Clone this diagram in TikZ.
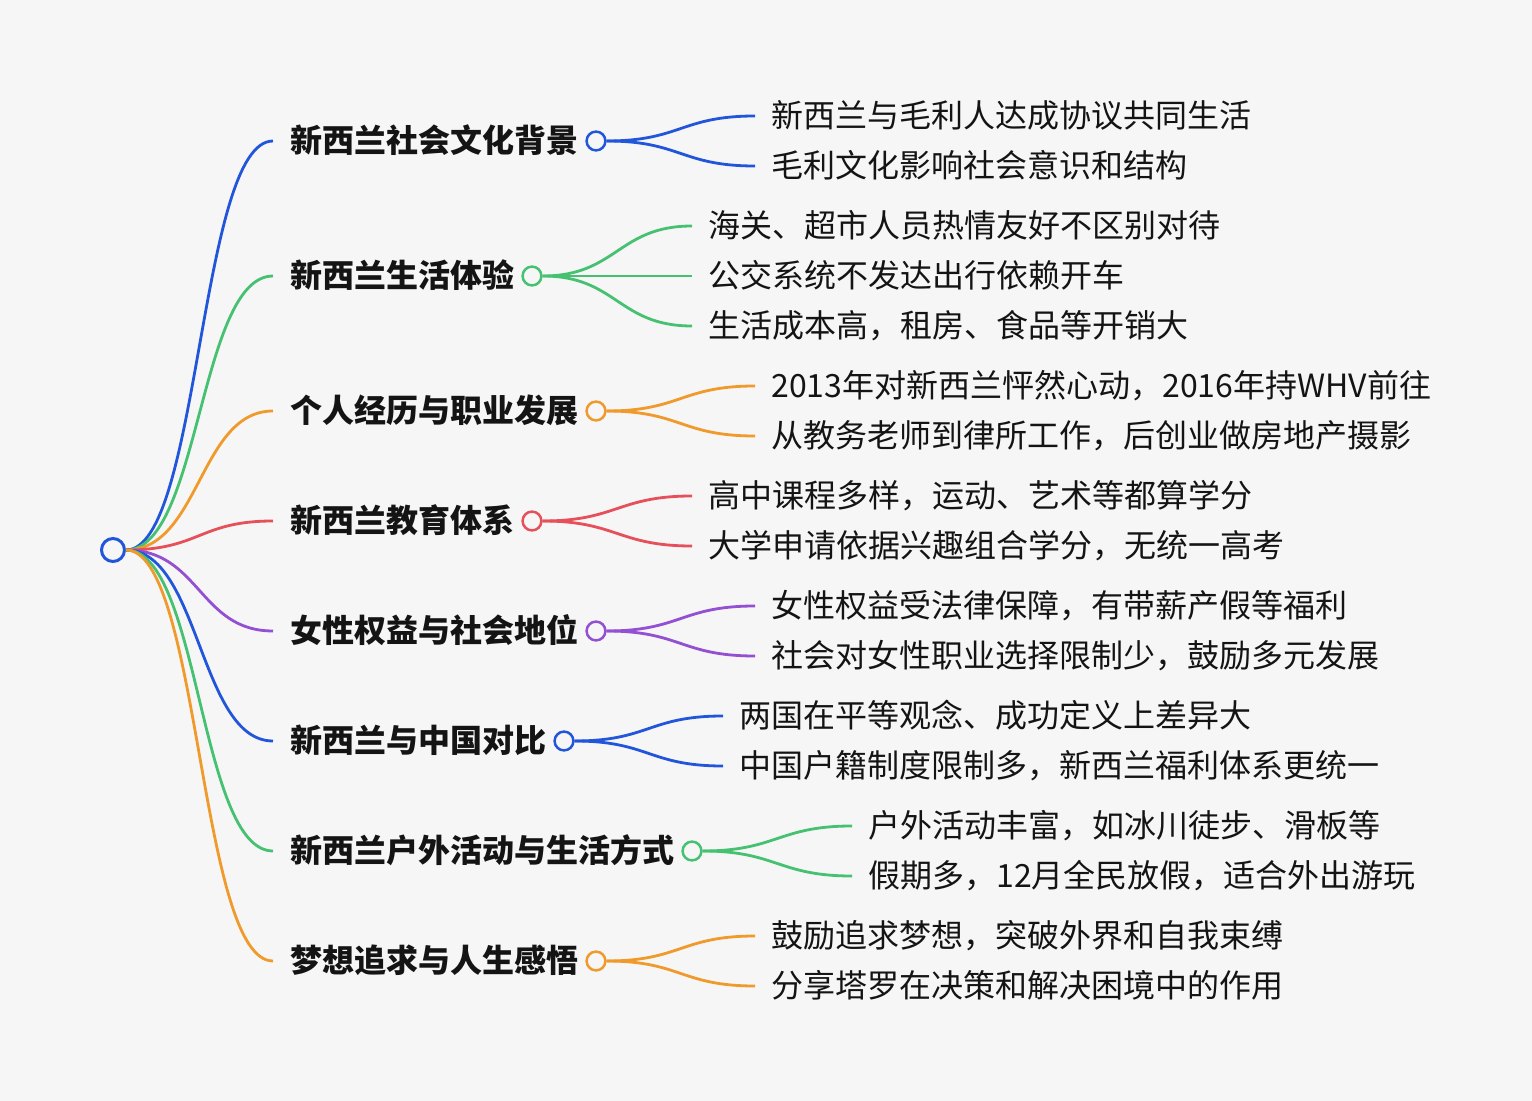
\documentclass[tikz,border=0pt]{standalone}
\usepackage{fontspec}
\newfontfamily\cjk{Noto Sans CJK SC}
\usepackage{tikz}

\definecolor{bgc}{HTML}{F6F6F6}
\definecolor{ink}{HTML}{141414}
\definecolor{cblue}{HTML}{2256DA}
\definecolor{cgreen}{HTML}{46C172}
\definecolor{corange}{HTML}{EF9A2B}
\definecolor{cred}{HTML}{E5505A}
\definecolor{cpurple}{HTML}{9350D2}

\begin{document}
\begin{tikzpicture}[x=0.5pt, y=-0.5pt,
    leaf/.style={anchor=west, inner xsep=8pt, inner ysep=0pt,
        text height=11.4pt, text depth=0pt, text=ink,
        font=\cjk\fontsize{16pt}{19pt}\selectfont},
    topic/.style={leaf, inner xsep=8.5pt,
        font=\cjk\bfseries\fontsize{16pt}{19pt}\selectfont},
    dot/.style={circle, draw=#1, fill=bgc, line width=1.25pt,
        minimum size=9.4pt, inner sep=0pt},
    link/.style={line width=1.4pt}]
    \fill[bgc] (0, 0) rectangle (1532, 1101);
    \useasboundingbox (0, 0) rectangle (1532, 1101);

    % root
    \node[dot=cblue, line width=1.5pt, minimum size=11.5pt] (root) at (113, 550) {};

    % topics
    \node[topic] (t1) at (273, 141) {新西兰社会文化背景};
    \node[topic] (t2) at (273, 276) {新西兰生活体验};
    \node[topic] (t3) at (273, 411) {个人经历与职业发展};
    \node[topic] (t4) at (273, 521) {新西兰教育体系};
    \node[topic] (t5) at (273, 631) {女性权益与社会地位};
    \node[topic] (t6) at (273, 741) {新西兰与中国对比};
    \node[topic] (t7) at (273, 851) {新西兰户外活动与生活方式};
    \node[topic] (t8) at (273, 961) {梦想追求与人生感悟};

    \node[dot=cblue] (c1) at (596, 141) {};
    \node[dot=cgreen] (c2) at (532, 276) {};
    \node[dot=corange] (c3) at (596, 411) {};
    \node[dot=cred] (c4) at (532, 521) {};
    \node[dot=cpurple] (c5) at (596, 631) {};
    \node[dot=cblue] (c6) at (564, 741) {};
    \node[dot=cgreen] (c7) at (692, 851) {};
    \node[dot=corange] (c8) at (596, 961) {};

    % leaves
    \node[leaf] (l11) at (755, 116) {新西兰与毛利人达成协议共同生活};
    \node[leaf] (l12) at (755, 166) {毛利文化影响社会意识和结构};
    \node[leaf] (l21) at (692, 226) {海关、超市人员热情友好不区别对待};
    \node[leaf] (l22) at (692, 276) {公交系统不发达出行依赖开车};
    \node[leaf] (l23) at (692, 326) {生活成本高，租房、食品等开销大};
    \node[leaf] (l31) at (755, 386) {2013年对新西兰怦然心动，2016年持WHV前往};
    \node[leaf] (l32) at (755, 436) {从教务老师到律所工作，后创业做房地产摄影};
    \node[leaf] (l41) at (692, 496) {高中课程多样，运动、艺术等都算学分};
    \node[leaf] (l42) at (692, 546) {大学申请依据兴趣组合学分，无统一高考};
    \node[leaf] (l51) at (755, 606) {女性权益受法律保障，有带薪产假等福利};
    \node[leaf] (l52) at (755, 656) {社会对女性职业选择限制少，鼓励多元发展};
    \node[leaf] (l61) at (723, 716) {两国在平等观念、成功定义上差异大};
    \node[leaf] (l62) at (723, 766) {中国户籍制度限制多，新西兰福利体系更统一};
    \node[leaf] (l71) at (852, 826) {户外活动丰富，如冰川徒步、滑板等};
    \node[leaf] (l72) at (852, 876) {假期多，12月全民放假，适合外出游玩};
    \node[leaf] (l81) at (755, 936) {鼓励追求梦想，突破外界和自我束缚};
    \node[leaf] (l82) at (755, 986) {分享塔罗在决策和解决困境中的作用};

    % root to topics
    \draw[link, cblue] (root.east) .. controls +(74,0) and +(-74,0) .. (t1.west);
    \draw[link, cgreen] (root.east) .. controls +(74,0) and +(-74,0) .. (t2.west);
    \draw[link, corange] (root.east) .. controls +(74,0) and +(-74,0) .. (t3.west);
    \draw[link, cred] (root.east) .. controls +(74,0) and +(-74,0) .. (t4.west);
    \draw[link, cpurple] (root.east) .. controls +(74,0) and +(-74,0) .. (t5.west);
    \draw[link, cblue] (root.east) .. controls +(74,0) and +(-74,0) .. (t6.west);
    \draw[link, cgreen] (root.east) .. controls +(74,0) and +(-74,0) .. (t7.west);
    \draw[link, corange] (root.east) .. controls +(74,0) and +(-74,0) .. (t8.west);

    % topics to leaves
    \draw[link, cblue] (c1.east) .. controls +(74,0) and +(-74,0) .. (l11.west);
    \draw[link, cblue] (c1.east) .. controls +(74,0) and +(-74,0) .. (l12.west);
    \draw[link, cgreen] (c2.east) .. controls +(74,0) and +(-74,0) .. (l21.west);
    \draw[link, cgreen] (c2.east) -- (l22.west);
    \draw[link, cgreen] (c2.east) .. controls +(74,0) and +(-74,0) .. (l23.west);
    \draw[link, corange] (c3.east) .. controls +(74,0) and +(-74,0) .. (l31.west);
    \draw[link, corange] (c3.east) .. controls +(74,0) and +(-74,0) .. (l32.west);
    \draw[link, cred] (c4.east) .. controls +(74,0) and +(-74,0) .. (l41.west);
    \draw[link, cred] (c4.east) .. controls +(74,0) and +(-74,0) .. (l42.west);
    \draw[link, cpurple] (c5.east) .. controls +(74,0) and +(-74,0) .. (l51.west);
    \draw[link, cpurple] (c5.east) .. controls +(74,0) and +(-74,0) .. (l52.west);
    \draw[link, cblue] (c6.east) .. controls +(74,0) and +(-74,0) .. (l61.west);
    \draw[link, cblue] (c6.east) .. controls +(74,0) and +(-74,0) .. (l62.west);
    \draw[link, cgreen] (c7.east) .. controls +(74,0) and +(-74,0) .. (l71.west);
    \draw[link, cgreen] (c7.east) .. controls +(74,0) and +(-74,0) .. (l72.west);
    \draw[link, corange] (c8.east) .. controls +(74,0) and +(-74,0) .. (l81.west);
    \draw[link, corange] (c8.east) .. controls +(74,0) and +(-74,0) .. (l82.west);
\end{tikzpicture}
\end{document}
